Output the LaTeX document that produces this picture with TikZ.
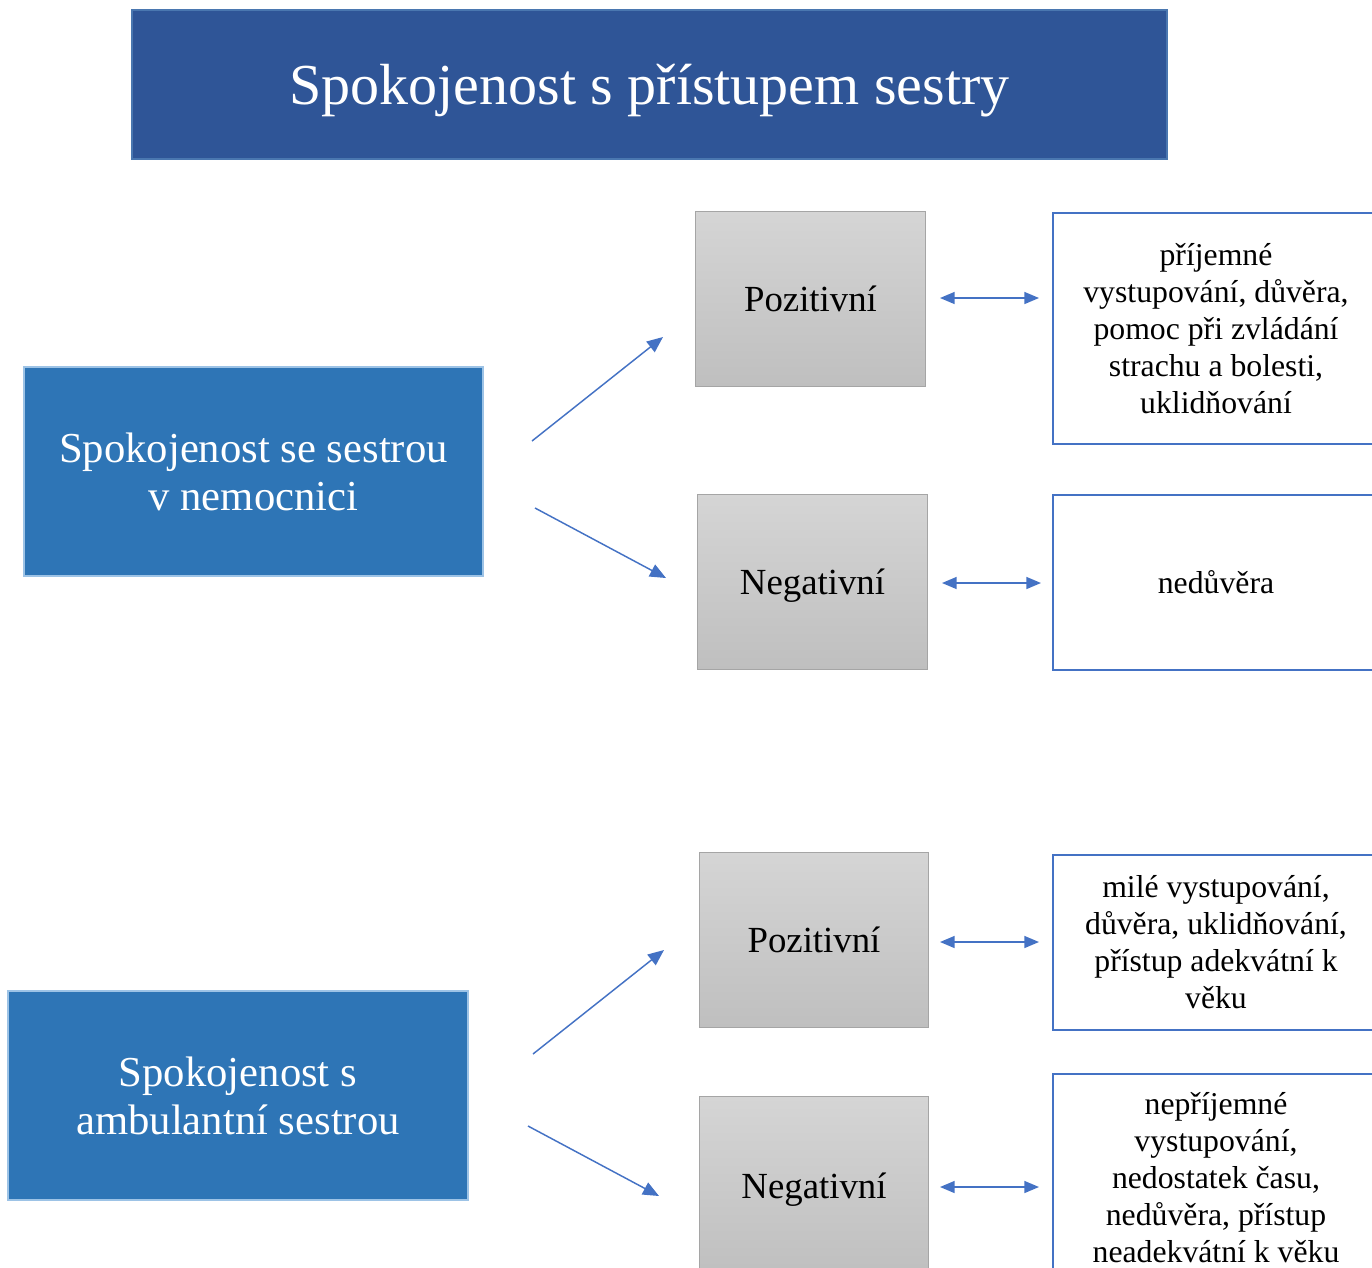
\documentclass[tikz,border=0pt]{standalone}
\usepackage{fontspec}
\setmainfont{Liberation Serif}
\usetikzlibrary{arrows.meta}
\definecolor{titleblue}{HTML}{2F5597}
\definecolor{titleedge}{HTML}{4A77B0}
\definecolor{mainblue}{HTML}{2E75B6}
\definecolor{mainedge}{HTML}{9DC3E6}
\definecolor{linkblue}{HTML}{4472C4}
\definecolor{graytop}{HTML}{D5D5D5}
\definecolor{graybot}{HTML}{BFBFBF}
\definecolor{grayedge}{HTML}{A5A5A5}
\tikzset{
  titlebox/.style={draw=titleedge, line width=1.5pt, fill=titleblue, text=white,
    minimum width=776.25pt, minimum height=111.75pt, inner sep=0pt, text depth=0pt,
    font=\fontsize{43.5}{50}\selectfont},
  mainbox/.style={draw=mainedge, line width=1pt, fill=mainblue, text=white, align=center,
    minimum height=156.75pt, inner sep=0pt, font=\fontsize{32}{36}\selectfont},
  graybox/.style={draw=grayedge, line width=0.75pt, top color=graytop, bottom color=graybot,
    minimum width=172pt, inner sep=0pt, text depth=0pt, font=\fontsize{27.6}{32}\selectfont},
  textbox/.style={draw=linkblue, line width=1.5pt, fill=white, align=center,
    minimum width=244.5pt, inner sep=0pt, font=\fontsize{23.8}{27.75}\selectfont},
  link/.style={draw=linkblue, line width=1.1pt, -{Triangle[length=12pt,width=10pt]}},
  dlink/.style={draw=linkblue, line width=1.1pt, {Triangle[length=11pt,width=9pt]}-{Triangle[length=11pt,width=9pt]}}
}
\begin{document}
\begin{tikzpicture}[x=0.75pt,y=-0.75pt]
\useasboundingbox (0,0) rectangle (1372,1268);
\clip (0,0) rectangle (1372,1268);
\node[titlebox] (title) at (649.5,84.5) {Spokojenost s přístupem sestry};
\node[mainbox, minimum width=344.25pt] (hosp) at (253.5,471.5) {Spokojenost se sestrou\\v nemocnici};
\node[mainbox, minimum width=345pt] (amb) at (238,1095.5) {Spokojenost s\\ambulantní sestrou};

\node[graybox, minimum height=131.25pt] (p1) at (810.5,298.5) {Pozitivní};
\node[graybox, minimum height=131.25pt] (n1) at (812.5,581.5) {Negativní};
\node[graybox, minimum height=131.25pt] (p2) at (814,939.5) {Pozitivní};
\node[graybox, minimum height=135pt] (n2) at (814,1186) {Negativní};

\node[textbox, minimum height=173.25pt] (t1) at (1216,328.5) {příjemné\\vystupování, důvěra,\\pomoc při zvládání\\strachu a bolesti,\\uklidňování};
\node[textbox, minimum height=131.25pt] (t2) at (1216,582.5) {nedůvěra};
\node[textbox, minimum height=131.25pt] (t3) at (1216,942) {milé vystupování,\\důvěra, uklidňování,\\přístup adekvátní k\\věku};
\node[textbox, minimum height=156pt] (t4) at (1216,1178) {nepříjemné\\vystupování,\\nedostatek času,\\nedůvěra, přístup\\neadekvátní k věku};

\coordinate (a1s) at (532,441);  \coordinate (a1e) at (663,337);
\coordinate (a2s) at (535,508);  \coordinate (a2e) at (666,578);
\coordinate (a3s) at (533,1054); \coordinate (a3e) at (664,950);
\coordinate (a4s) at (528,1126); \coordinate (a4e) at (659,1196);
\draw[link] (a1s) -- (a1e);
\draw[link] (a2s) -- (a2e);
\draw[link] (a3s) -- (a3e);
\draw[link] (a4s) -- (a4e);

\coordinate (d1s) at (940,298);  \coordinate (d1e) at (1039,298);
\coordinate (d2s) at (942,583);  \coordinate (d2e) at (1041,583);
\coordinate (d3s) at (940,942);  \coordinate (d3e) at (1039,942);
\coordinate (d4s) at (940,1187); \coordinate (d4e) at (1039,1187);
\draw[dlink] (d1s) -- (d1e);
\draw[dlink] (d2s) -- (d2e);
\draw[dlink] (d3s) -- (d3e);
\draw[dlink] (d4s) -- (d4e);
\end{tikzpicture}
\end{document}
